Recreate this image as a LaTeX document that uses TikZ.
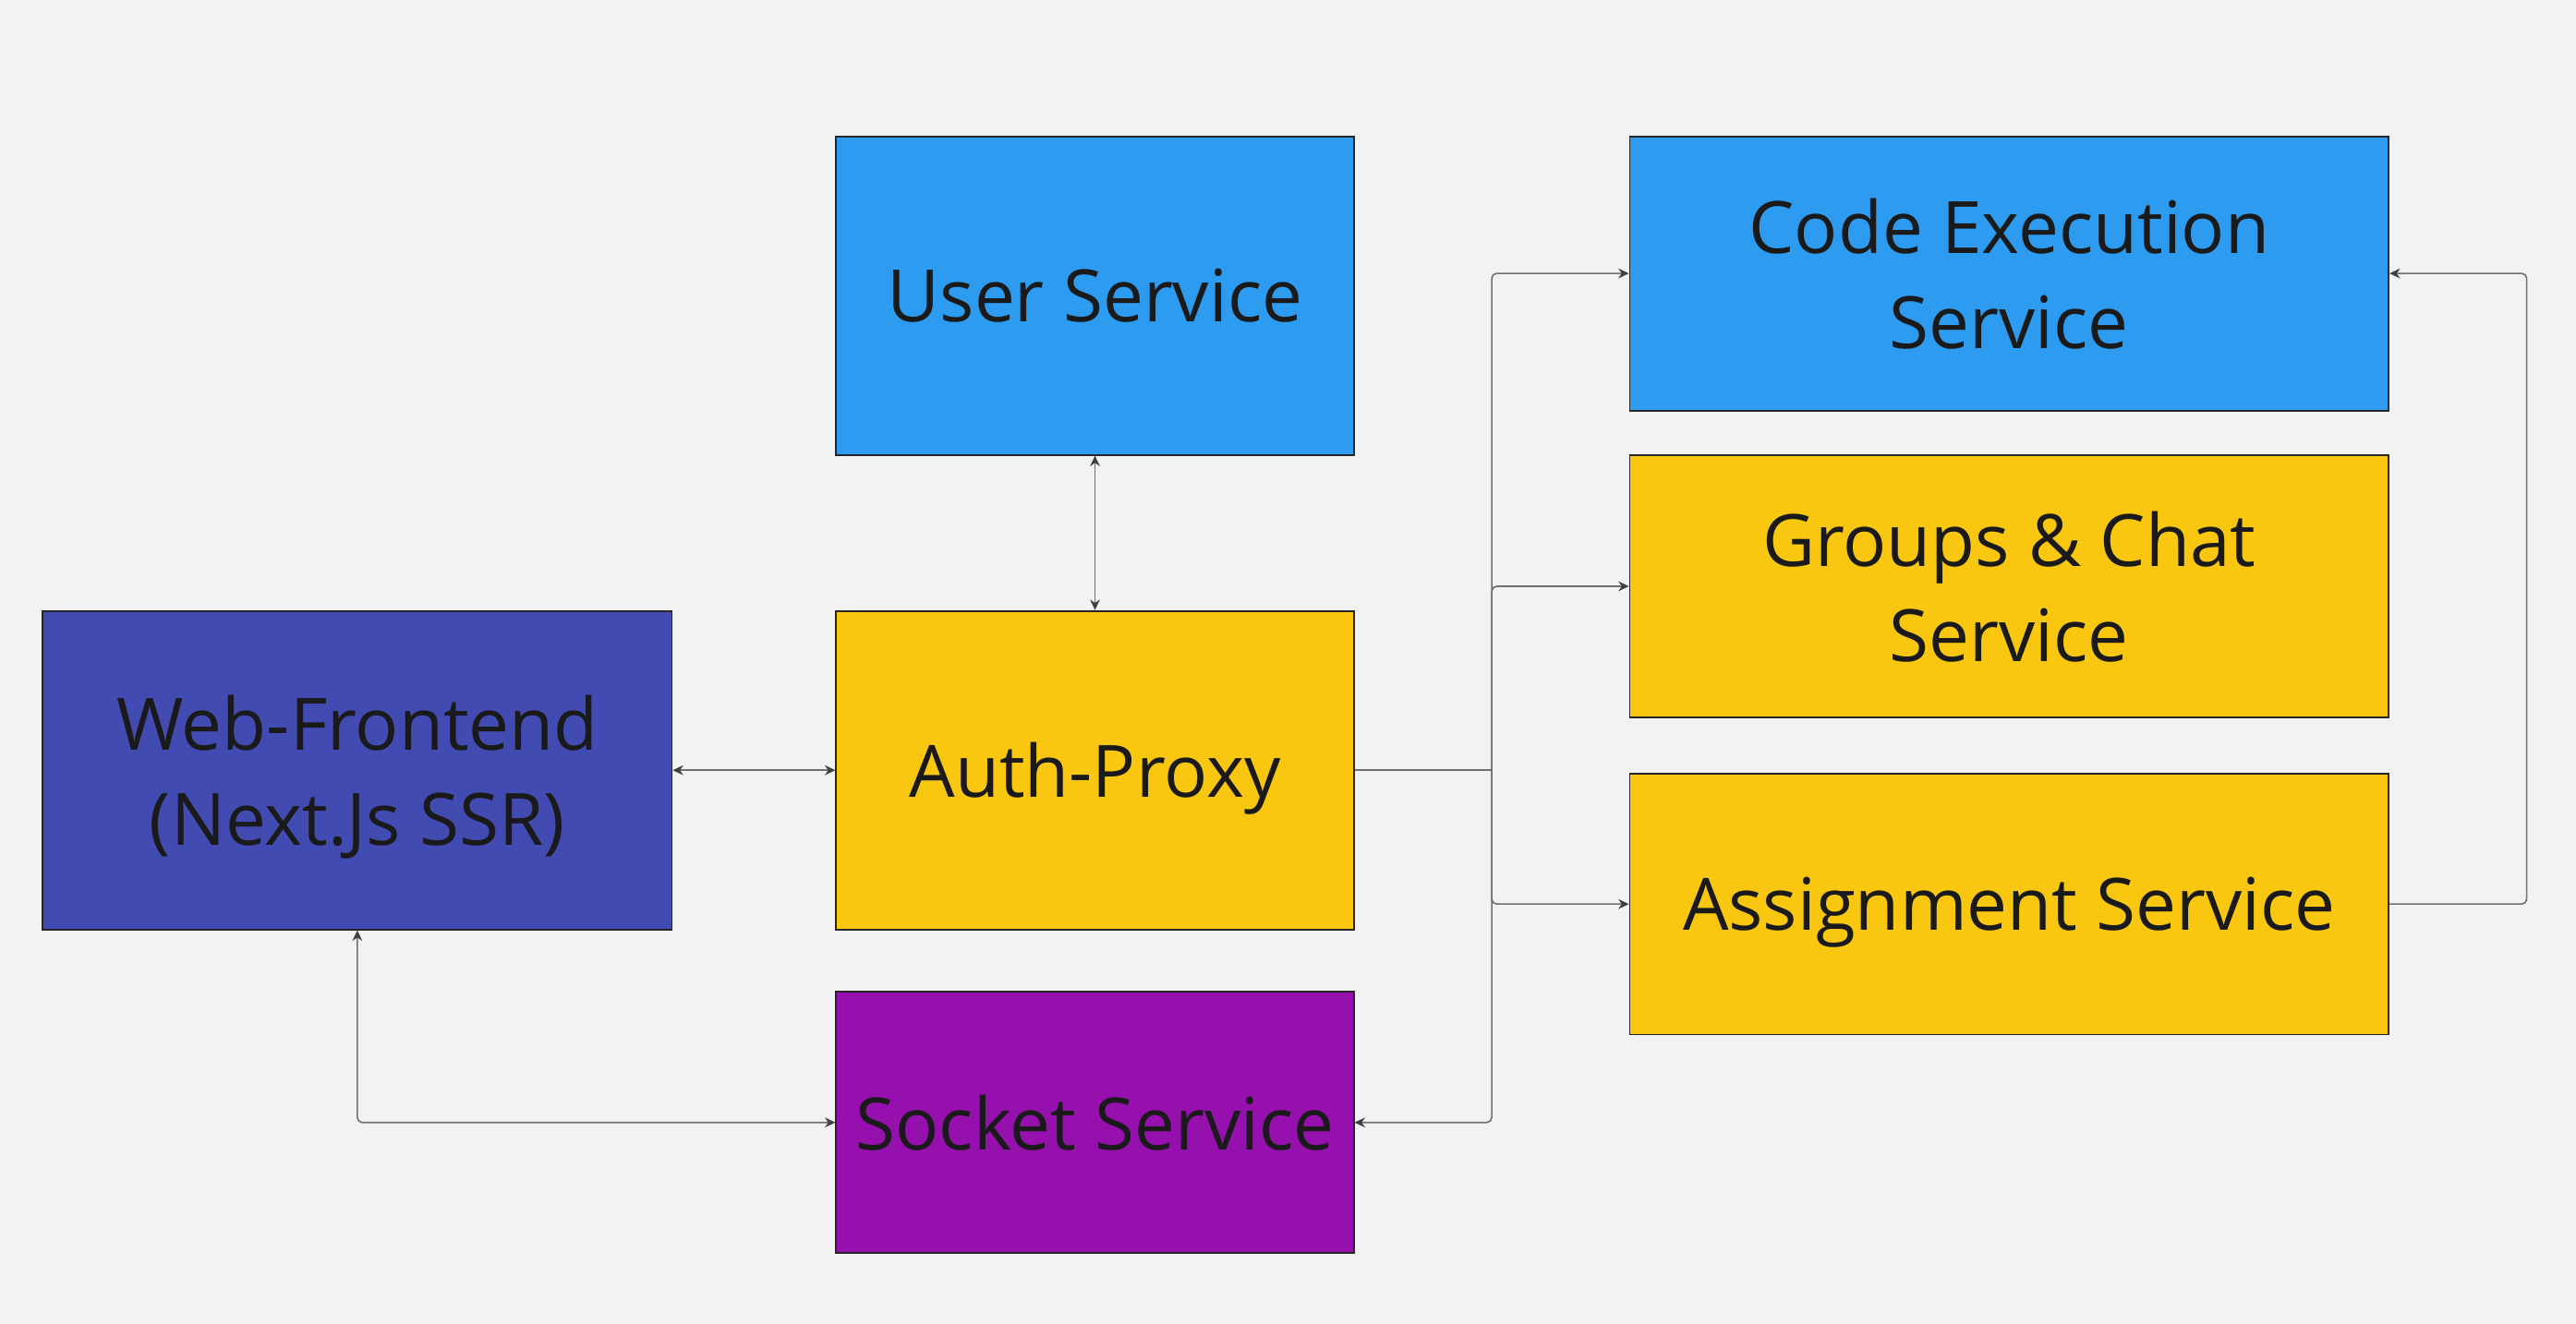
\documentclass[tikz,border=0pt]{standalone}
\usepackage{fontspec}
\setmainfont{Open Sans}
\usetikzlibrary{arrows.meta}
\definecolor{bg}{HTML}{F2F2F2}
\definecolor{mblue}{HTML}{2D9BF0}
\definecolor{myellow}{HTML}{FAC710}
\definecolor{mpurple}{HTML}{9510AC}
\definecolor{mindigo}{HTML}{414BB2}
\definecolor{mtext}{HTML}{1A1A1A}
\definecolor{mline}{HTML}{707070}
\tikzset{
  svc/.style={draw=black!85, line width=0.5pt, inner sep=0pt, align=center,
    text=mtext, text depth=0pt, font=\fontsize{22}{29}\selectfont},
  conn/.style={draw=mline, line width=0.45pt, rounded corners=1.5pt},
  tip/.style={arrows={-Stealth[length=3.2pt,width=3pt,color=black!75]}},
  btip/.style={arrows={Stealth[length=3.2pt,width=3pt,color=black!75]-Stealth[length=3.2pt,width=3pt,color=black!75]}}
}
\begin{document}
\begin{tikzpicture}[x=0.5pt,y=-0.5pt]
\fill[bg] (0,0) rectangle (1568,806);
\useasboundingbox (0,0) rectangle (1568,806);
\node[svc, fill=mblue, minimum width=157.5pt, minimum height=97pt] (user) at (666.5,180) {User Service};
\node[svc, fill=myellow, minimum width=157.5pt, minimum height=97pt] (auth) at (666.5,469) {Auth-Proxy};
\node[svc, fill=mpurple, minimum width=157.5pt, minimum height=79.5pt] (socket) at (666.5,683.5) {Socket Service};
\node[svc, fill=mindigo, minimum width=191.5pt, minimum height=97pt] (web) at (217.5,469) {Web-Frontend\\(Next.Js SSR)};
\node[svc, fill=mblue, minimum width=231pt, minimum height=83.5pt] (code) at (1223,166.5) {Code Execution\\Service};
\node[svc, fill=myellow, minimum width=231pt, minimum height=80pt] (groups) at (1223,357) {Groups \& Chat\\Service};
\node[svc, fill=myellow, minimum width=231pt, minimum height=79.5pt] (assign) at (1223,550.5) {Assignment Service};
\coordinate (j) at (908,469);
\coordinate (rx) at (1538,550.5);
\draw[conn, btip] (web.east) -- (auth.west);
\draw[conn, btip] (user.south) -- (auth.north);
\draw[conn] (auth.east) -- (j);
\draw[conn, tip] (j) |- (code.west);
\draw[conn, tip] (j) |- (groups.west);
\draw[conn, tip] (j) |- (assign.west);
\draw[conn, tip] (j) |- (socket.east);
\draw[conn, tip] (assign.east) -- (rx) |- (code.east);
\draw[conn, btip] (web.south) |- (socket.west);
\end{tikzpicture}
\end{document}
